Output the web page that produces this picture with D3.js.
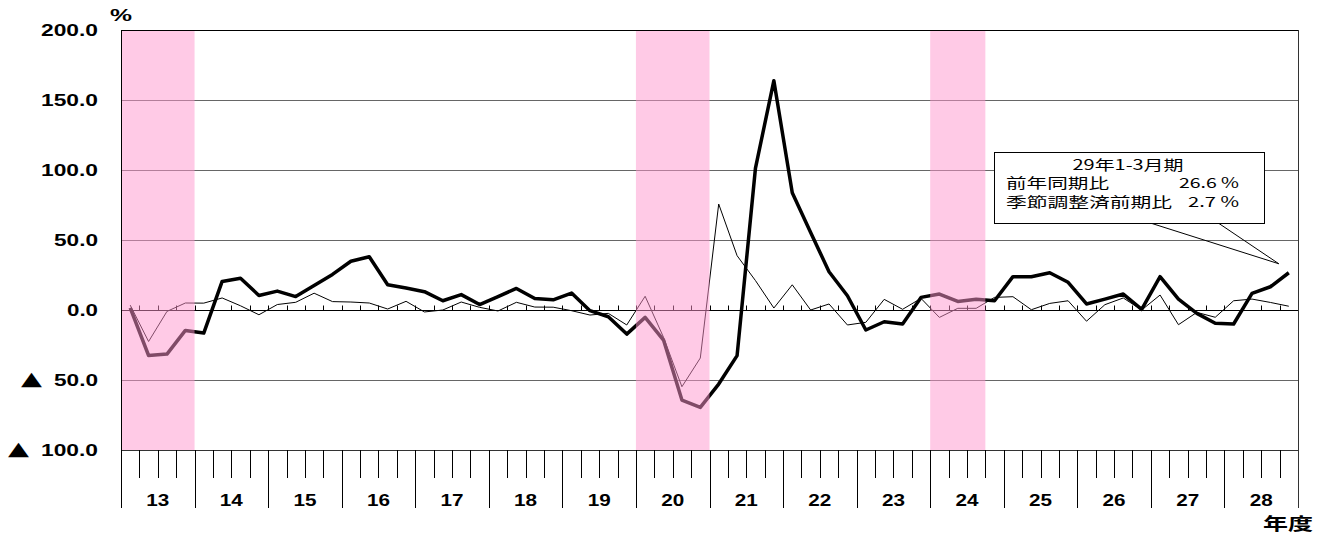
<!DOCTYPE html>
<html><head><meta charset="utf-8">
<script src="https://cdn.jsdelivr.net/npm/d3@7/dist/d3.min.js"></script>
<style>
html,body{margin:0;padding:0;background:#fff;}
svg{display:block;}
</style></head>
<body>
<svg id="chart" width="1329" height="535"></svg>
<script>
// ---- data ----
const years = ["13","14","15","16","17","18","19","20","21","22","23","24","25","26","27","28"];
// 前年同期比 (quarterly, FY13 Q1 .. FY28 Q4)
const yoy = [1.5,-32.5,-31.5,-14.6, -16.5,20.4,22.7,10.4, 13.5,9.6,17.5,25.4, 34.8,38.0,18.0,15.7,
             13.1,6.6,11.0,3.9, 9.6,15.4,8.2,7.3, 12.1,-0.5,-4.8,-17.2, -5.3,-21.5,-64.3,-69.6,
             -52.9,-32.6,101.4,163.8, 83.8,55.4,27.3,10.2, -14.3,-8.4,-10.0,9.0, 11.4,6.1,7.6,6.6,
             23.8,23.8,26.6,19.8, 4.3,7.8,11.4,0.5, 23.8,7.8,-2.4,-9.5, -10.0,11.9,16.6,26.6];
// 季節調整済前期比
const qoq = [3.5,-22.5,-1.0,5.0, 4.9,8.6,3.0,-3.4, 3.9,5.5,12.0,6.0, 5.7,5.0,0.7,6.2,
             -1.4,0.0,5.7,1.9, -0.7,5.5,2.1,2.0, -0.5,-3.6,-2.4,-10.7, 9.8,-19.5,-54.8,-34.3,
             75.7,38.8,21.0,1.4, 18.0,0.0,4.3,-10.7, -8.8,7.6,0.5,8.3, -5.3,1.2,1.2,9.0,
             9.5,0.2,4.7,6.6, -8.0,3.8,8.6,0.0, 10.7,-10.5,-1.7,-5.2, 6.6,7.8,5.4,2.7];
// shaded periods (quarter index start, end exclusive)
const shadeStart = [0, 28, 44];
const shadeEnd   = [4, 32, 47];
const yTicks = [-100,-50,0,50,100,150,200];
const yTickLabels = ["▲ 100.0","▲ 50.0","0.0","50.0","100.0","150.0","200.0"];
const calloutTitle = "29年1-3月期";
const calloutNames = ["前年同期比","季節調整済前期比"];
const unitLabel = "%";
const xTitle = "年度";

// ---- layout ----
const svg = d3.select("#chart");
const L = 121, R = 1298, T = 30, B = 450;
const nQ = years.length * 4;
const x = d3.scaleLinear().domain([0, nQ]).range([L, R]);
const y = d3.scaleLinear().domain([-100, 200]).range([B, T]);
const numFont = "'Liberation Sans', Arial, sans-serif";
const jpFont = "'Noto Sans CJK JP', sans-serif";

// gridlines
svg.append("g").selectAll("line").data(yTicks.filter(v => v !== 0 && v !== -100 && v !== 200))
  .join("line")
  .attr("x1", L).attr("x2", R)
  .attr("y1", d => Math.round(y(d)) + 0.5).attr("y2", d => Math.round(y(d)) + 0.5)
  .attr("stroke", "#666").attr("stroke-width", 1);

// zero line + small ticks
const y0 = Math.round(y(0)) + 0.5;
svg.append("line").attr("x1", L).attr("x2", R).attr("y1", y0).attr("y2", y0)
  .attr("stroke", "#000").attr("stroke-width", 1);
svg.append("g").selectAll("line").data(d3.range(1, nQ))
  .join("line")
  .attr("x1", d => Math.round(x(d)) + 0.5).attr("x2", d => Math.round(x(d)) + 0.5)
  .attr("y1", y0 - 5).attr("y2", y0)
  .attr("stroke", "#000").attr("stroke-width", 1);

// lines
const line = d3.line().x((d, i) => x(i + 0.5)).y(d => y(d));
svg.append("path").datum(qoq).attr("d", line)
  .attr("fill", "none").attr("stroke", "#000").attr("stroke-width", 1)
  .attr("stroke-linejoin", "miter");
svg.append("path").datum(yoy).attr("d", line)
  .attr("fill", "none").attr("stroke", "#000").attr("stroke-width", 3.5)
  .attr("stroke-linejoin", "round");

// pink shading (overlay)
svg.append("g").selectAll("rect").data(d3.range(shadeStart.length))
  .join("rect")
  .attr("x", i => x(shadeStart[i])).attr("width", i => x(shadeEnd[i]) - x(shadeStart[i]))
  .attr("y", T).attr("height", B - T)
  .attr("fill", "rgb(255,150,205)").attr("fill-opacity", 0.5);

// frame
svg.append("line").attr("x1", L).attr("x2", R).attr("y1", T + 0.5).attr("y2", T + 0.5).attr("stroke", "#000");
svg.append("line").attr("x1", L).attr("x2", R).attr("y1", B + 0.5).attr("y2", B + 0.5).attr("stroke", "#333");
svg.append("line").attr("x1", L + 0.5).attr("x2", L + 0.5).attr("y1", T).attr("y2", 508).attr("stroke", "#000");
svg.append("line").attr("x1", R + 0.5).attr("x2", R + 0.5).attr("y1", T).attr("y2", 508).attr("stroke", "#333");

// x axis ticks below plot
svg.append("g").selectAll("line").data(d3.range(1, nQ))
  .join("line")
  .attr("x1", d => Math.round(x(d)) + 0.5).attr("x2", d => Math.round(x(d)) + 0.5)
  .attr("y1", B).attr("y2", d => d % 4 === 0 ? 508 : 478)
  .attr("stroke", "#000").attr("stroke-width", 1);

// year labels
svg.append("g").selectAll("text").data(years)
  .join("text")
  .attr("x", (d, i) => x(i * 4 + 2) - 11.5).attr("y", 506)
  .attr("font-family", numFont).attr("font-weight", "bold").attr("font-size", 17)
  .attr("textLength", 23).attr("lengthAdjust", "spacingAndGlyphs")
  .text(d => d);

// y labels
yTicks.forEach((v, i) => {
  const lab = yTickLabels[i];
  const neg = lab.startsWith("▲");
  const num = neg ? lab.replace("▲", "").trim() : lab;
  const digits = num.replace(".", "").length;
  const w = 13 * digits + 5;
  const base = y(v) + 6;
  svg.append("text").attr("x", 98 - w).attr("y", base)
    .attr("font-family", numFont).attr("font-weight", "bold").attr("font-size", 16)
    .attr("textLength", w).attr("lengthAdjust", "spacingAndGlyphs").text(num);
  if (neg) {
    svg.append("text").attr("x", 98 - w - 33).attr("y", base - 1)
      .attr("font-family", "'DejaVu Sans', sans-serif").attr("font-size", 19)
      .attr("textLength", 21).attr("lengthAdjust", "spacingAndGlyphs").text("▲");
  }
});

// unit & axis title
svg.append("text").attr("x", 110).attr("y", 21)
  .attr("font-family", numFont).attr("font-weight", "bold").attr("font-size", 17)
  .attr("textLength", 22).attr("lengthAdjust", "spacingAndGlyphs").text(unitLabel);
svg.append("text").attr("x", 1263).attr("y", 530)
  .attr("font-family", jpFont).attr("font-weight", "bold").attr("font-size", 17)
  .attr("textLength", 50).attr("lengthAdjust", "spacingAndGlyphs").text(xTitle);

// callout
const bx0 = 994, bx1 = 1264, by0 = 152, by1 = 223;
const tipX = x(nQ - 0.5) - 10, tipY = y(yoy[nQ - 1]) - 9;
svg.append("rect").attr("x", bx0 + 0.5).attr("y", by0 + 0.5).attr("width", bx1 - bx0).attr("height", by1 - by0)
  .attr("fill", "#fff").attr("stroke", "#000").attr("stroke-width", 1);
svg.append("path")
  .attr("d", `M1152,${by1 + 0.5} L${tipX},${tipY} L1219,${by1 + 0.5}`)
  .attr("fill", "none").attr("stroke", "#000").attr("stroke-width", 1);
const ct = (txt, xx, yy, w) => svg.append("text").attr("x", xx).attr("y", yy)
  .attr("font-family", jpFont).attr("font-size", 14).attr("fill", "#000")
  .attr("textLength", w).attr("lengthAdjust", "spacingAndGlyphs").text(txt);
ct(calloutTitle, 1128 - 55.5, 169.5, 111);
ct(calloutNames[0], 1006, 188, 103);
ct(yoy[nQ - 1].toFixed(1) + " %", 1179, 188, 60);
ct(calloutNames[1], 1006, 206.5, 166);
ct(qoq[nQ - 1].toFixed(1) + " %", 1188, 206.5, 51);
</script>
</body></html>
